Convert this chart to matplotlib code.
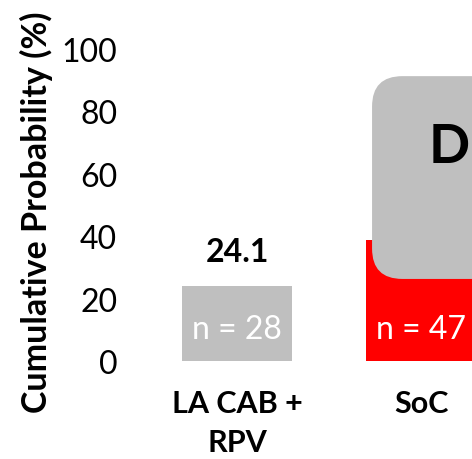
import matplotlib
matplotlib.use("Agg")
import matplotlib.pyplot as plt
from matplotlib.patches import FancyBboxPatch
from matplotlib.transforms import ScaledTranslation

plt.rcParams['font.family'] = ['Lato', 'DejaVu Sans']

groups = ['LA CAB +\nRPV', 'SoC']
probs = [24.1, 38.8]
counts = [28, 47]
colors = ['#BFBFBF', '#FF0000']
yticks = [0, 20, 40, 60, 80, 100]

fig = plt.figure(figsize=(4.72, 4.6), dpi=100)
# axes runs past the right edge on purpose, the panel is clipped there
ax = fig.add_axes([145 / 472, 98 / 460, 368 / 472, 312 / 460])

x = list(range(len(groups)))
bars = ax.bar(x, probs, width=0.6, color=colors, zorder=2)

for xi, n in zip(x, counts):
    ax.text(xi, 10.3, f'n = {n}', ha='center', va='center', color='white',
            fontsize=23, zorder=4)

# value label on the first bar only, the second is covered by the callout
ax.text(x[0], probs[0] + 11, f'{probs[0]:.1f}', ha='center', va='center',
        fontsize=23, fontweight='bold', zorder=4)

# grey callout box over the SoC bar
box = FancyBboxPatch((0.734, 26.3), 1.0, 65.0,
                     boxstyle='round,pad=0,rounding_size=0.165',
                     mutation_aspect=59, facecolor='#BFBFBF',
                     edgecolor='none', zorder=3, clip_on=False)
ax.add_patch(box)
ax.text(1.155, 68.8, 'D', ha='center', va='center', fontsize=39,
        fontweight='bold', zorder=4)

ax.set_xlim(-0.5, 1.5)
ax.set_ylim(0, 100)
ax.set_yticks(yticks)
ax.set_xticks(x)
ax.set_xticklabels(groups, fontsize=22, fontweight='bold', linespacing=1.5)
shift = [-6.5, -8.5]
for lab, dx in zip(ax.get_xticklabels(), shift):
    lab.set_transform(lab.get_transform() +
                      ScaledTranslation(dx / 100, 0, fig.dpi_scale_trans))
ax.tick_params(axis='y', length=0, pad=20, labelsize=23)
ax.tick_params(axis='x', length=0, pad=20)
ax.set_ylabel('Cumulative Probability (%)', fontsize=24.5, fontweight='bold')
ax.yaxis.set_label_coords(-0.25, 0.48)
for s in ax.spines.values():
    s.set_visible(False)

fig.savefig('out.png', dpi=100)
